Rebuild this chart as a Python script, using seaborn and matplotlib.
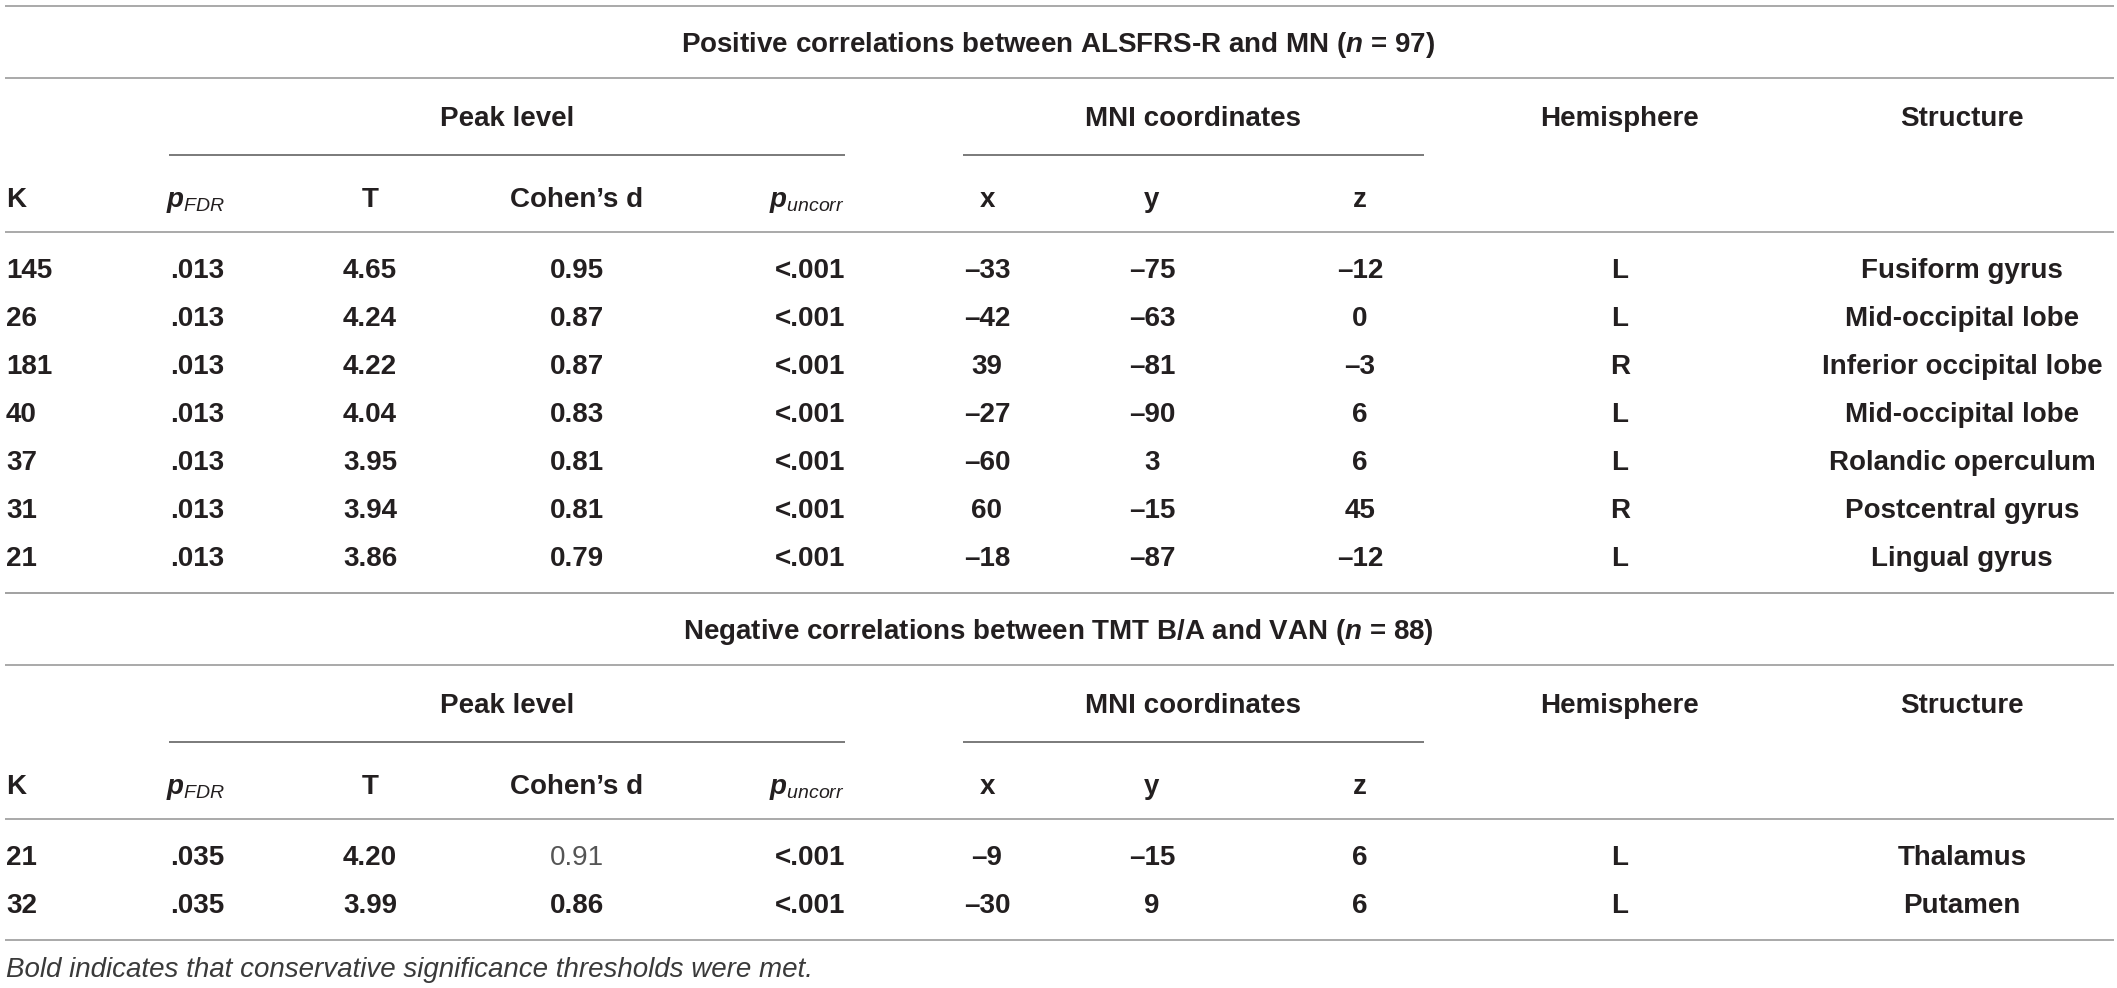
import matplotlib
matplotlib.use("Agg")
import matplotlib.pyplot as plt
import seaborn as sns

# table values
title_pos = r"Positive correlations between ALSFRS-R and MN ($\mathbfit{n}$ = 97)"
title_neg = r"Negative correlations between TMT B/A and VAN ($\mathbfit{n}$ = 88)"

k_pos = ["145", "26", "181", "40", "37", "31", "21"]
pfdr_pos = [".013", ".013", ".013", ".013", ".013", ".013", ".013"]
t_pos = ["4.65", "4.24", "4.22", "4.04", "3.95", "3.94", "3.86"]
d_pos = ["0.95", "0.87", "0.87", "0.83", "0.81", "0.81", "0.79"]
punc_pos = ["<.001", "<.001", "<.001", "<.001", "<.001", "<.001", "<.001"]
x_pos = ["–33", "–42", "39", "–27", "–60", "60", "–18"]
y_pos = ["–75", "–63", "–81", "–90", "3", "–15", "–87"]
z_pos = ["–12", "0", "–3", "6", "6", "45", "–12"]
hemi_pos = ["L", "L", "R", "L", "L", "R", "L"]
struct_pos = ["Fusiform gyrus", "Mid-occipital lobe", "Inferior occipital lobe",
              "Mid-occipital lobe", "Rolandic operculum", "Postcentral gyrus",
              "Lingual gyrus"]

k_neg = ["21", "32"]
pfdr_neg = [".035", ".035"]
t_neg = ["4.20", "3.99"]
d_neg = ["0.91", "0.86"]
d_neg_bold = [False, True]
punc_neg = ["<.001", "<.001"]
x_neg = ["–9", "–30"]
y_neg = ["–15", "9"]
z_neg = ["6", "6"]
hemi_neg = ["L", "L"]
struct_neg = ["Thalamus", "Putamen"]

footnote = "Bold indicates that conservative significance thresholds were met."

sns.set_theme(style="white")
plt.rcParams["font.family"] = ["Liberation Sans", "DejaVu Sans"]
plt.rcParams["mathtext.fontset"] = "custom"
plt.rcParams["mathtext.rm"] = "Liberation Sans:bold"
plt.rcParams["mathtext.it"] = "Liberation Sans:italic"
plt.rcParams["mathtext.bf"] = "Liberation Sans:bold"
plt.rcParams["mathtext.bfit"] = "Liberation Sans:italic:bold"

W, H = 2117, 988
fig = plt.figure(figsize=(W / 100, H / 100), dpi=100)
ax = fig.add_axes([0, 0, 1, 1])
ax.set_xlim(0, W)
ax.set_ylim(H, 0)
ax.axis("off")

FS = 20
TXT = "#231f20"
LINE = "#a3a3a3"
SUBLINE = "#707070"

# column anchors (x, ha)
cols = [(6, "left"), (197, "center"), (370, "center"), (577, "center"),
        (845, "right"), (987, "center"), (1152, "center"), (1360, "center"),
        (1620, "center"), (1962, "center")]


def hline(y, x0=5, x1=2114, color=LINE):
    ax.plot([x0, x1], [y, y], color=color, lw=1.3, solid_capstyle="butt")


def txt(x, y, s, ha="center", bold=True, **kw):
    ax.text(x, y, s, ha=ha, va="baseline", fontsize=FS, color=kw.pop("color", TXT),
            fontweight="bold" if bold else "normal", **kw)


def section(top, title, rows, d_bold):
    hline(top)
    txt(1058, top + 46, title)
    hline(top + 72)
    txt(507, top + 120, "Peak level")
    txt(1193, top + 120, "MNI coordinates")
    txt(1620, top + 120, "Hemisphere")
    txt(1962, top + 120, "Structure")
    hline(top + 149, 169, 845, SUBLINE)
    hline(top + 149, 963, 1424, SUBLINE)
    hy = top + 201
    txt(6, hy, "K", ha="left")
    txt(196, hy, r"$\mathbfit{p}_{FDR}$")
    txt(370, hy, "T")
    txt(577, hy, "Cohen’s d")
    txt(845, hy, r"$\mathbfit{p}_{uncorr}$", ha="right")
    txt(987, hy, "x")
    txt(1152, hy, "y")
    txt(1360, hy, "z")
    hline(top + 226)
    for i, row in enumerate(zip(*rows)):
        ry = top + 272 + 48 * i
        for j, ((cx, ha), val) in enumerate(zip(cols, row)):
            if j == 3 and not d_bold[i]:
                txt(cx, ry, val, ha=ha, bold=False, color="#555555")
            else:
                txt(cx, ry, val, ha=ha)


section(6, title_pos,
        [k_pos, pfdr_pos, t_pos, d_pos, punc_pos, x_pos, y_pos, z_pos, hemi_pos, struct_pos],
        [True] * len(k_pos))
hline(593)
section(593, title_neg,
        [k_neg, pfdr_neg, t_neg, d_neg, punc_neg, x_neg, y_neg, z_neg, hemi_neg, struct_neg],
        d_neg_bold)
hline(940)
txt(6, 977, footnote, ha="left", bold=False, style="italic", color="#3a3a3a")

fig.savefig("out.png", dpi=100)
